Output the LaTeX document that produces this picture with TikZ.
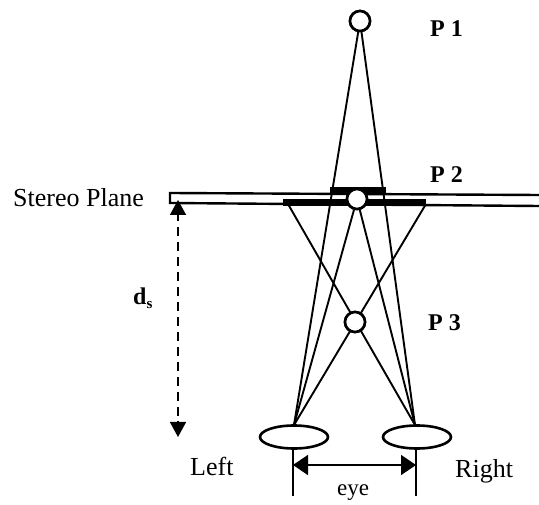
\documentclass[tikz,border=0pt]{standalone}
\usepackage{fontspec}
\setmainfont{Liberation Serif}
\usetikzlibrary{arrows.meta,shapes.geometric}
\tikzset{
  ray/.style={line width=1.9pt,black},
  ball/.style={circle,draw=black,line width=2.6pt,fill=white,minimum size=20pt,inner sep=0pt},
  eyeshape/.style={ellipse,draw=black,line width=2.6pt,minimum width=68pt,minimum height=23pt,inner sep=0pt},
  bar/.style={fill=black,draw=none},
  lab/.style={inner sep=0pt,font=\fontsize{26}{28}\selectfont},
  blab/.style={inner sep=0pt,font=\fontsize{24}{28}\selectfont\bfseries},
  dimline/.style={line width=1.6pt,{Triangle[length=15pt,width=20pt]}-{Triangle[length=15pt,width=20pt]}},
  headtip/.style={-{Triangle[length=15pt,width=16pt]},line width=1.6pt}
}
\begin{document}
\begin{tikzpicture}[x=1pt,y=-1pt]
\useasboundingbox (0,0) rectangle (539,505);
% plane
\draw[line width=2.4pt] (539,195) -- (170,193) -- (170,203) -- (539,206);
\fill[bar] (283,199) rectangle (426,206);
\fill[bar] (330,187) rectangle (386,193);
% coordinates
\coordinate (lefttop) at (294,425);
\coordinate (righttop) at (415,425);
\coordinate (barL) at (288,204);
\coordinate (barR) at (426,204);
% balls
\node[ball] (p1) at (360,21) {};
\node[ball] (p2) at (357,199) {};
\node[ball] (p3) at (355,322) {};
% rays
\draw[ray] (p1) -- (lefttop);
\draw[ray] (p1) -- (righttop);
\draw[ray] (p2) -- (lefttop);
\draw[ray] (p2) -- (righttop);
\draw[ray] (barL) -- (righttop);
\draw[ray] (barR) -- (lefttop);
\node[ball] at (p1) {};
\node[ball] at (p2) {};
\node[ball] at (p3) {};
% eyes
\node[eyeshape] (le) at (294,437) {};
\node[eyeshape] (re) at (417,437) {};
% eye distance
\coordinate (lb) at (293,496);
\coordinate (rb) at (416,496);
\draw[line width=1.8pt] (le.south -| lb) -- (lb);
\draw[line width=1.8pt] (re.south -| rb) -- (rb);
\coordinate (da) at (293,465);
\coordinate (db) at (416,465);
\draw[dimline] (da) -- (db);
% ds
\coordinate (dt) at (178,200);
\coordinate (dd) at (178,437);
\draw[line width=1.6pt,dash pattern=on 9pt off 6pt] (178,212) -- (178,425);
\draw[headtip] (178,216) -- (dt);
\draw[headtip] (178,421) -- (dd);
% labels
\node[blab,anchor=west] (t1) at (430,29) {P 1};
\node[blab,anchor=west] (t2) at (430,175) {P 2};
\node[blab,anchor=west] (t3) at (428,323) {P 3};
\node[lab,anchor=west] (ts) at (13,198) {Stereo Plane};
\node[blab,anchor=west] (td) at (133,298) {d\raisebox{-4pt}{\fontsize{15}{15}\selectfont s}};
\node[lab,anchor=west] (tl) at (190,466) {Left};
\node[lab,anchor=west] (tr) at (455,471) {Right};
\node[inner sep=0pt,font=\fontsize{23}{26}\selectfont] (te) at (353,493) {eye};
\end{tikzpicture}
\end{document}
